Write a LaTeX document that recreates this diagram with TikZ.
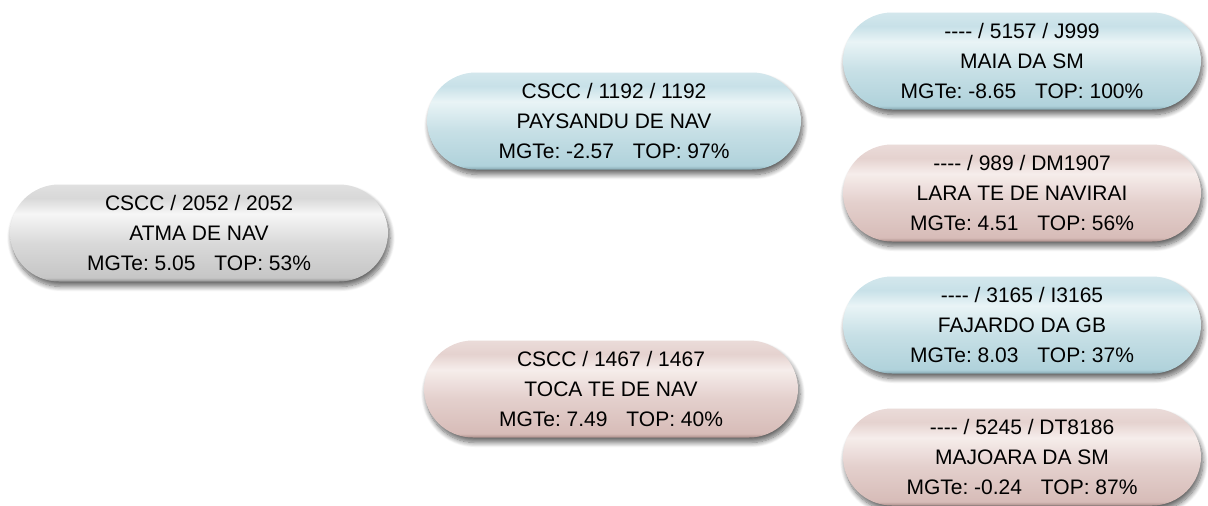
\documentclass[tikz,border=0pt]{standalone}
\usepackage{fontspec}
\setmainfont{Liberation Sans}
\usetikzlibrary{shadows.blur}
\definecolor{gA}{HTML}{D8D8D8}\definecolor{gB}{HTML}{F6F6F6}\definecolor{gC}{HTML}{C6C6C6}\definecolor{gD}{HTML}{909090}
\definecolor{bA}{HTML}{C8E1E8}\definecolor{bB}{HTML}{E9F4F6}\definecolor{bC}{HTML}{B0D2DB}\definecolor{bD}{HTML}{86A8B2}
\definecolor{pA}{HTML}{E5D2CF}\definecolor{pB}{HTML}{F6EDEB}\definecolor{pC}{HTML}{D7BCB8}\definecolor{pD}{HTML}{AC8E8A}
\pgfdeclareverticalshading{pillgray}{100bp}{color(0bp)=(gD); color(25bp)=(gD); color(27bp)=(gC); color(45bp)=(gC!60!gB); color(60bp)=(gB); color(68bp)=(gA); color(75bp)=(gA!80!white); color(100bp)=(gA!80!white)}
\pgfdeclareverticalshading{pillblue}{100bp}{color(0bp)=(bD); color(25bp)=(bD); color(27bp)=(bC); color(45bp)=(bC!60!bB); color(60bp)=(bB); color(68bp)=(bA); color(75bp)=(bA!80!white); color(100bp)=(bA!80!white)}
\pgfdeclareverticalshading{pillpink}{100bp}{color(0bp)=(pD); color(25bp)=(pD); color(27bp)=(pC); color(45bp)=(pC!60!pB); color(60bp)=(pB); color(68bp)=(pA); color(75bp)=(pA!80!white); color(100bp)=(pA!80!white)}
\tikzset{
  pill/.style={rectangle, rounded corners=49pt, minimum height=97pt, inner sep=0pt,
    align=center, font=\fontsize{21}{30}\selectfont\frenchspacing, text=black,
    blur shadow={shadow xshift=2pt, shadow yshift=-5pt, shadow blur radius=5pt, shadow blur steps=10, shadow opacity=60}},
  pgray/.style={pill, shading=pillgray},
  pblue/.style={pill, shading=pillblue},
  ppink/.style={pill, shading=pillpink},
  wide/.style={minimum width=374pt},
  narrow/.style={minimum width=358pt}
}
\newcommand{\gp}{\hspace{0.9em}}
\newcommand{\dsh}{-{}-{}-{}-}
\begin{document}
\begin{tikzpicture}[x=1pt,y=-1pt]
\useasboundingbox (0,0) rectangle (1208,506);
\node[pgray, minimum width=378pt] (a) at (199,233) {CSCC / 2052 / 2052\\ATMA DE NAV\\MGTe: 5.05\gp TOP: 53\%};
\node[pblue, wide] (b) at (614,121) {CSCC / 1192 / 1192\\PAYSANDU DE NAV\\MGTe: -2.57\gp TOP: 97\%};
\node[ppink, wide] (c) at (611,389) {CSCC / 1467 / 1467\\TOCA TE DE NAV\\MGTe: 7.49\gp TOP: 40\%};
\node[pblue, narrow] (d) at (1022,61) {\dsh{} / 5157 / J999\\MAIA DA SM\\MGTe: -8.65\gp TOP: 100\%};
\node[ppink, narrow] (e) at (1022,193) {\dsh{} / 989 / DM1907\\LARA TE DE NAVIRAI\\MGTe: 4.51\gp TOP: 56\%};
\node[pblue, narrow] (f) at (1022,325) {\dsh{} / 3165 / I3165\\FAJARDO DA GB\\MGTe: 8.03\gp TOP: 37\%};
\node[ppink, narrow] (g) at (1022,457) {\dsh{} / 5245 / DT8186\\MAJOARA DA SM\\MGTe: -0.24\gp TOP: 87\%};
\end{tikzpicture}
\end{document}
